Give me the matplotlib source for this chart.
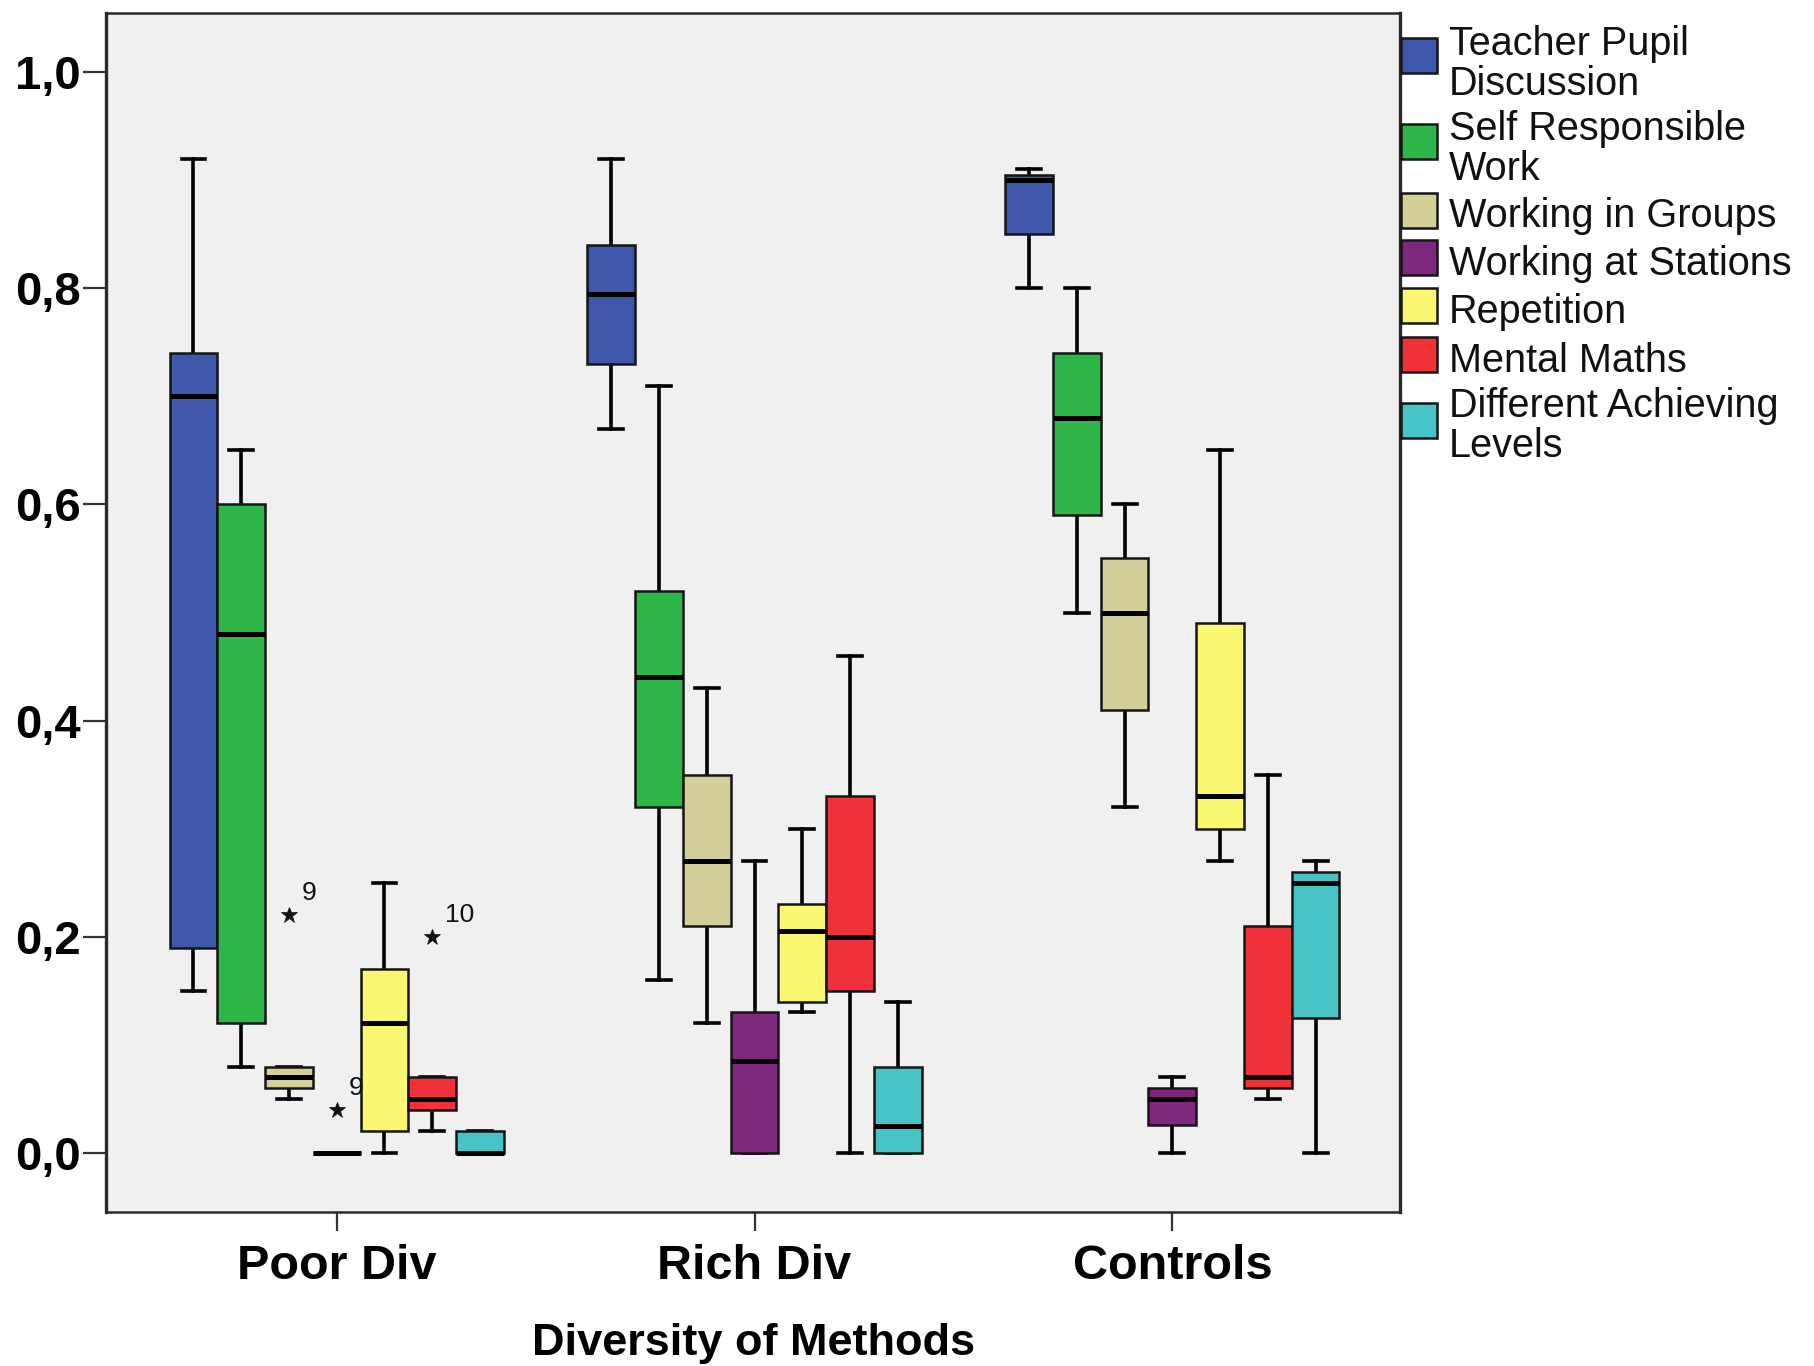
import matplotlib
matplotlib.use("Agg")
import matplotlib.pyplot as plt
from matplotlib.patches import Rectangle
from matplotlib.ticker import FixedLocator, FuncFormatter

# ---- data -----------------------------------------------------------------
groups = ["Poor Div", "Rich Div", "Controls"]
methods = [
    "Teacher Pupil\nDiscussion",
    "Self Responsible\nWork",
    "Working in Groups",
    "Working at Stations",
    "Repetition",
    "Mental Maths",
    "Different Achieving\nLevels",
]
colors = ["#3F57AA", "#2EB748", "#D4CF98", "#7D287C", "#FAF870", "#EF323A", "#48C3C6"]

# five-number summaries: (lower whisker, Q1, median, Q3, upper whisker)
poor_div = [
    (0.15, 0.19, 0.70, 0.74, 0.92),
    (0.08, 0.12, 0.48, 0.60, 0.65),
    (0.05, 0.06, 0.07, 0.08, 0.08),
    (0.00, 0.00, 0.00, 0.00, 0.00),
    (0.00, 0.02, 0.12, 0.17, 0.25),
    (0.02, 0.04, 0.05, 0.07, 0.07),
    (0.00, 0.00, 0.00, 0.02, 0.02),
]
rich_div = [
    (0.67, 0.73, 0.795, 0.84, 0.92),
    (0.16, 0.32, 0.44, 0.52, 0.71),
    (0.12, 0.21, 0.27, 0.35, 0.43),
    (0.00, 0.00, 0.085, 0.13, 0.27),
    (0.13, 0.14, 0.205, 0.23, 0.30),
    (0.00, 0.15, 0.20, 0.33, 0.46),
    (0.00, 0.00, 0.025, 0.08, 0.14),
]
controls = [
    (0.80, 0.85, 0.90, 0.905, 0.91),
    (0.50, 0.59, 0.68, 0.74, 0.80),
    (0.32, 0.41, 0.50, 0.55, 0.60),
    (0.00, 0.026, 0.05, 0.06, 0.07),
    (0.27, 0.30, 0.33, 0.49, 0.65),
    (0.05, 0.06, 0.07, 0.21, 0.35),
    (0.00, 0.125, 0.25, 0.26, 0.27),
]
summaries = [poor_div, rich_div, controls]

# extreme values: (group index, method index, value, case number)
extremes = [
    (0, 2, 0.22, "9"),
    (0, 3, 0.04, "9"),
    (0, 5, 0.20, "10"),
]

y_ticks = [0.0, 0.2, 0.4, 0.6, 0.8, 1.0]

# ---- figure ---------------------------------------------------------------
W, H = 1815, 1366
fig = plt.figure(figsize=(W / 100, H / 100), dpi=100)
ax_l, ax_r, ax_t, ax_b = 106.5, 1400.5, 12.7, 1212
ax = fig.add_axes([ax_l / W, 1 - ax_b / H, (ax_r - ax_l) / W, (ax_b - ax_t) / H])
ax.set_facecolor("#F0F0F0")

FONT = "Liberation Sans"
n = len(methods)
box_w = 0.8 / n

for gi, group_stats in enumerate(summaries):
    for mi, (lo, q1, med, q3, hi) in enumerate(group_stats):
        pos = gi + (mi - (n - 1) / 2) * box_w
        fl = [v for (g, m, v, _) in extremes if g == gi and m == mi]
        st = [dict(whislo=lo, q1=q1, med=med, q3=q3, whishi=hi, fliers=fl)]
        art = ax.bxp(
            st, positions=[pos], widths=box_w, capwidths=box_w / 2,
            patch_artist=True, showfliers=True, manage_ticks=False,
            boxprops=dict(facecolor=colors[mi], edgecolor="#151515", linewidth=1.8),
            medianprops=dict(color="black", linewidth=3.6, solid_capstyle="butt"),
            whiskerprops=dict(color="black", linewidth=2.6),
            capprops=dict(color="black", linewidth=2.6),
            flierprops=dict(marker="*", markersize=12, markerfacecolor="#111111",
                            markeredgecolor="#111111", markeredgewidth=0.5),
        )
        for b in art["boxes"]:
            b.set_zorder(3)
        for ln in art["medians"]:
            ln.set_zorder(4)

for gi, mi, v, lab in extremes:
    pos = gi + (mi - (n - 1) / 2) * box_w
    ax.annotate(lab, (pos, v), xytext=(9, 7), textcoords="offset points",
                fontsize=19, family=FONT, color="#111111", va="bottom", ha="left")

ax.set_xlim(-0.551, 2.546)
ax.set_ylim(-0.0546, 1.0549)

ax.xaxis.set_major_locator(FixedLocator(range(len(groups))))
ax.set_xticklabels(groups, fontsize=35, fontweight="bold", family=FONT)
ax.yaxis.set_major_locator(FixedLocator(y_ticks))
ax.yaxis.set_major_formatter(FuncFormatter(lambda v, p: f"{v:.1f}".replace(".", ",")))
for lab in ax.get_yticklabels():
    lab.set_fontsize(34)
    lab.set_fontweight("bold")
    lab.set_family(FONT)

ax.tick_params(axis="y", direction="out", length=16.5, width=1.6, color="#333333", pad=2)
ax.tick_params(axis="x", direction="out", length=14, width=1.6, color="#333333", pad=9)

for side, sp in ax.spines.items():
    sp.set_color("#2a2a2a")
    sp.set_linewidth(1.8)
ax.spines["left"].set_linewidth(2.4)
ax.spines["right"].set_linewidth(2.4)

ax.set_xlabel("Diversity of Methods", fontsize=32.5, fontweight="bold", family=FONT, va="top")
ax.xaxis.set_label_coords(0.5, -0.0926)

# ---- legend ---------------------------------------------------------------
# (patch top px, patch bottom px, first-line baseline px)
legend_rows = [
    (38, 73, 55),
    (124, 159, 140),
    (193, 228, 227),
    (240, 275, 275),
    (288, 323, 323),
    (337, 372, 372),
    (403, 438, 417),
]
line_step = 40
px0, px1, tx = 1401, 1437, 1449
for (pt, pb, base), lab, col in zip(legend_rows, methods, colors):
    fig.add_artist(Rectangle((px0 / W, 1 - pb / H), (px1 - px0) / W, (pb - pt) / H,
                             transform=fig.transFigure, facecolor=col,
                             edgecolor="#151515", linewidth=1.8))
    for k, line in enumerate(lab.split("\n")):
        fig.text(tx / W, 1 - (base + k * line_step) / H, line, fontsize=28.5,
                 family=FONT, va="baseline", ha="left", color="#111111")

fig.savefig("out.png", dpi=100, facecolor="white")
